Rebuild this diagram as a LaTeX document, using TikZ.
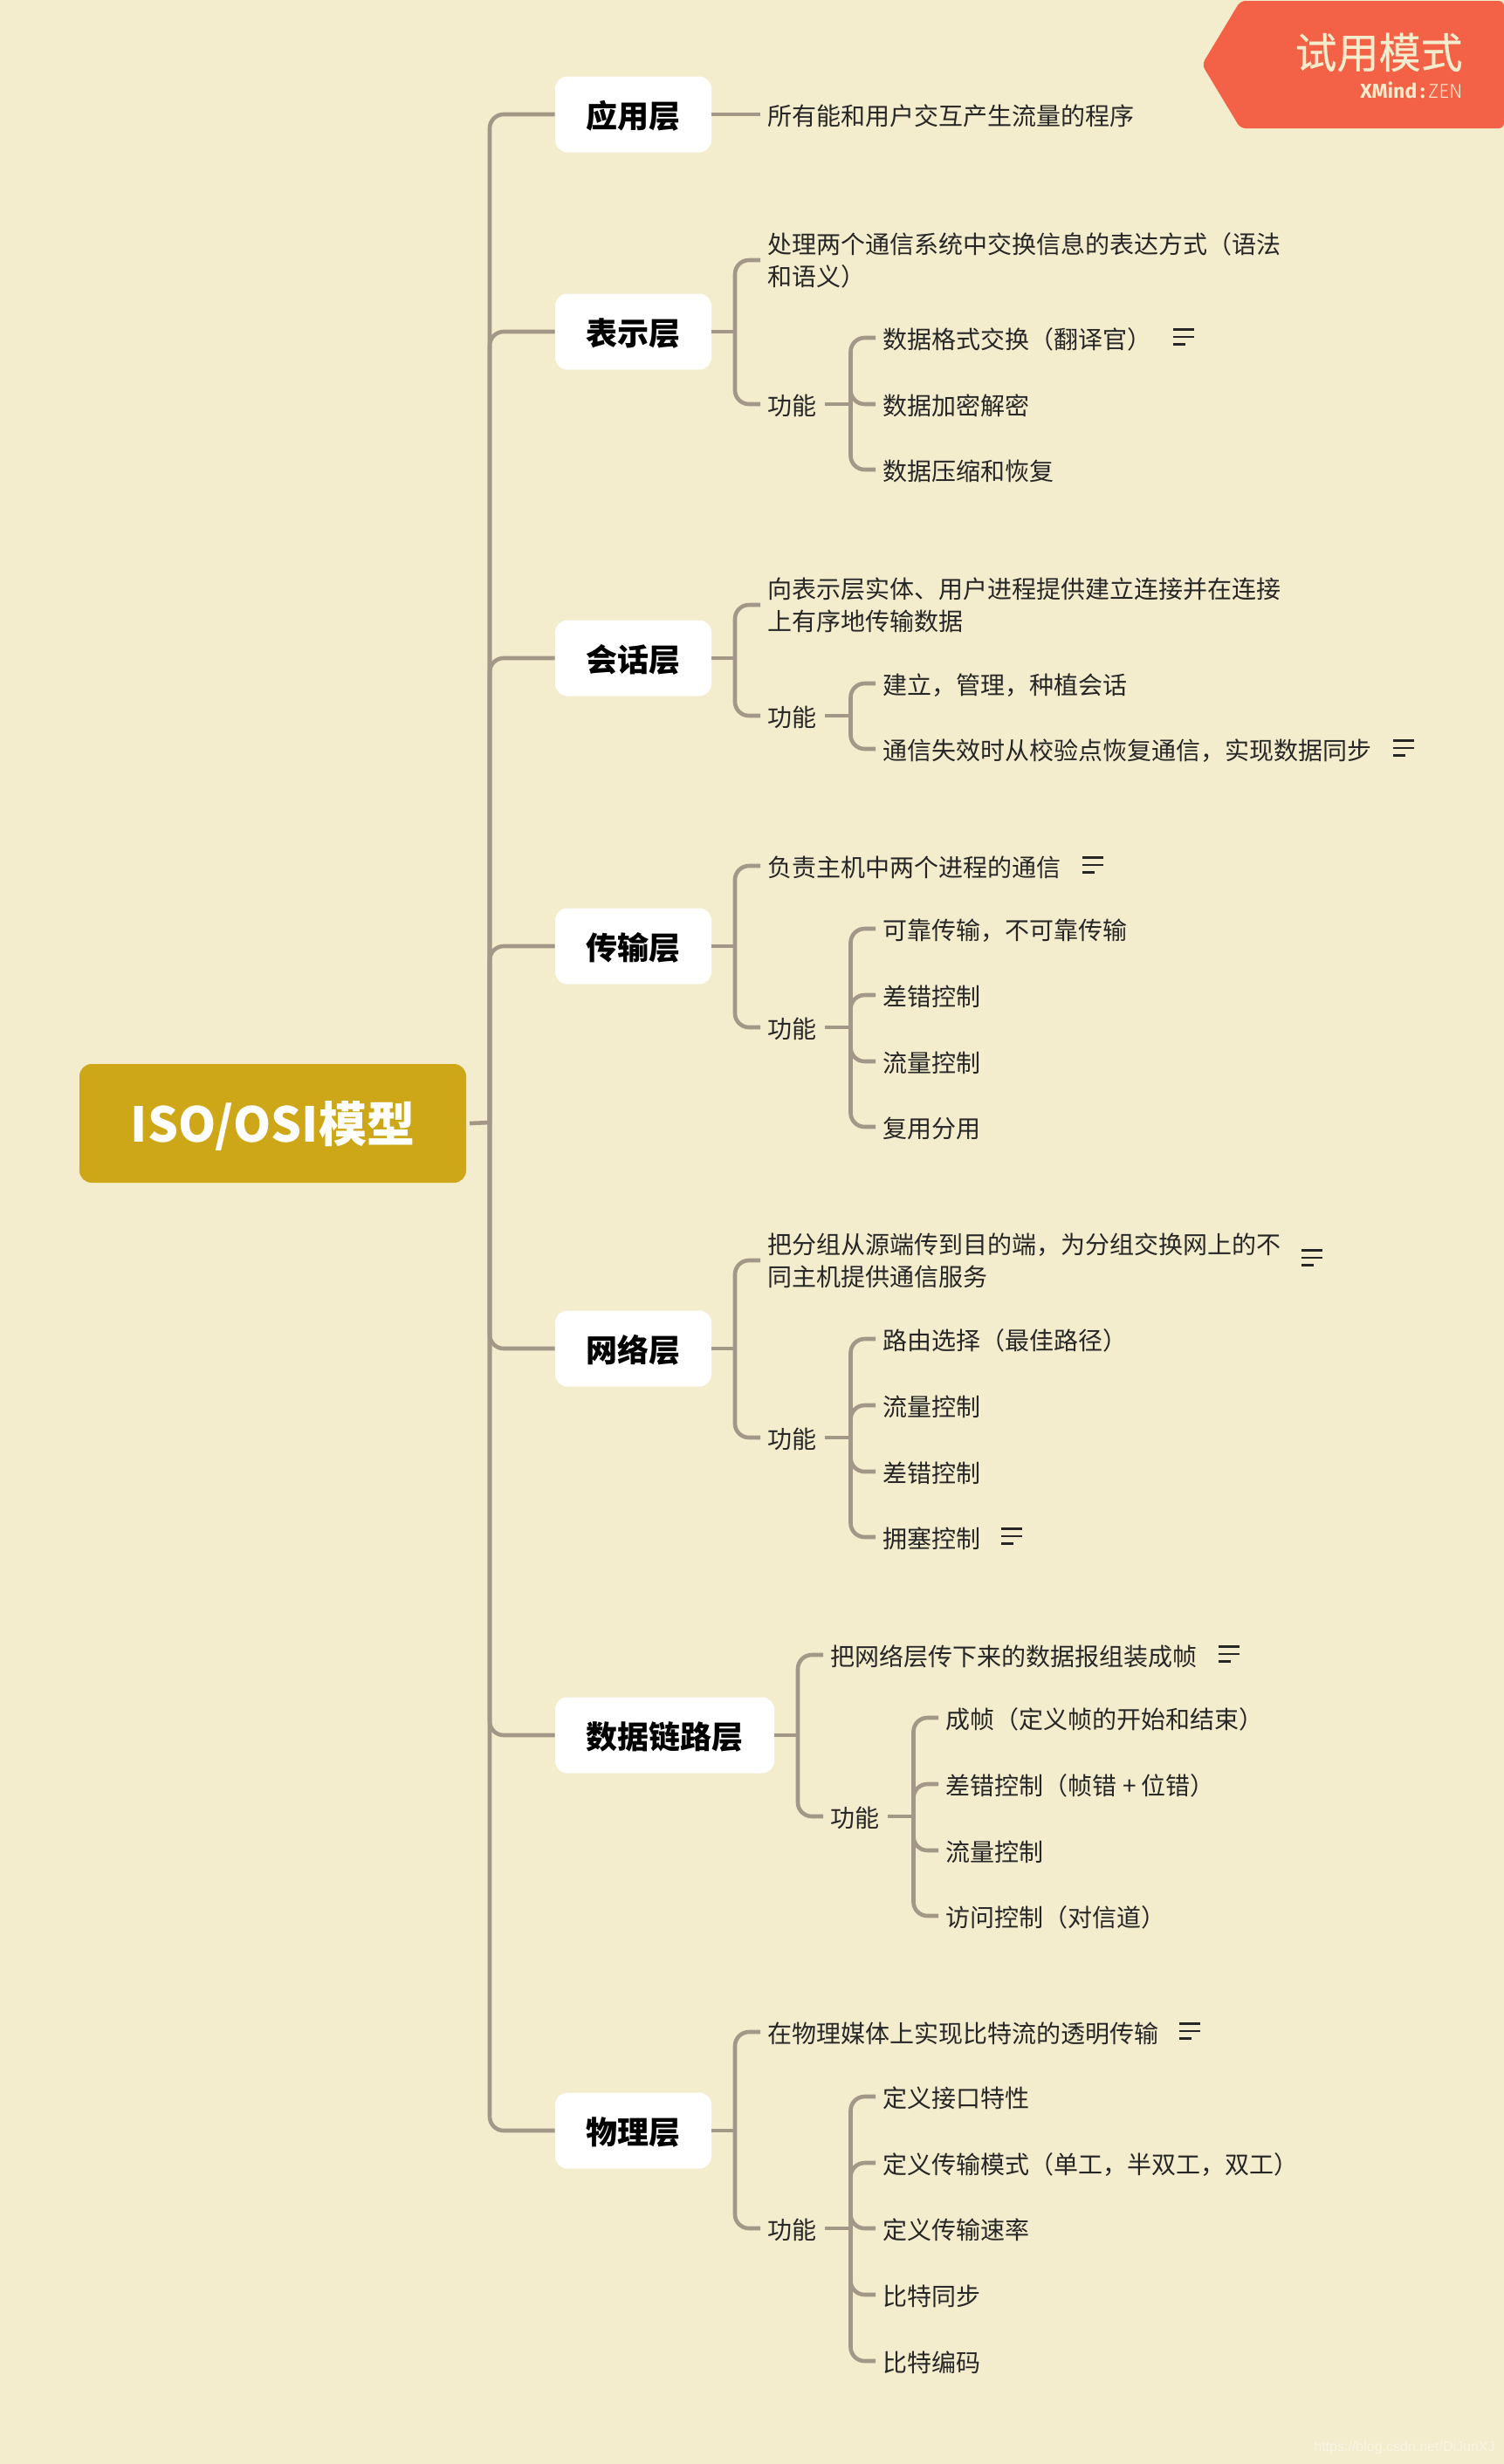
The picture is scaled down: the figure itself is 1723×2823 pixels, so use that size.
\documentclass[tikz,border=0pt]{standalone}
\usepackage{fontspec}
\setmainfont{Noto Sans CJK SC}
\newfontfamily\badgefont[FakeBold=0.4]{Noto Sans CJK SC}
\newfontfamily\latinfont{Fira Sans}
\newfontfamily\latinlight{Fira Sans Light}
\newfontfamily\urlfont{Liberation Sans}
\usetikzlibrary{positioning}

\definecolor{paper}{HTML}{F3ECCD}
\definecolor{linkgray}{HTML}{A39788}
\definecolor{rootgold}{HTML}{CEA718}
\definecolor{badgered}{HTML}{F36247}

\tikzset{
  root/.style={fill=rootgold,text=white,font=\fontsize{27.5}{34}\bfseries\selectfont,rounded corners=7pt,
    minimum width=221.5pt,minimum height=68pt,inner sep=0pt,outer sep=2pt,
    execute at begin node={\rule[-8pt]{0pt}{37.2pt}}},
  layer/.style={fill=white,text=black,font=\fontsize{18}{22}\bfseries\selectfont,rounded corners=7pt,
    minimum width=89.5pt,minimum height=43.5pt,inner sep=0pt,
    execute at begin node={\rule[-6pt]{0pt}{27pt}}},
  itembase/.style={anchor=west,text=black!85,font=\fontsize{14}{18.5}\selectfont,align=left,
    inner xsep=4.2pt,inner ysep=0pt},
  item/.style={itembase,execute at begin node={\rule[-5pt]{0pt}{22.2pt}}},
  twoline/.style={itembase,execute at begin node={\rule{0pt}{18.3pt}}},
  link/.style={draw=linkgray,line width=2.3pt,rounded corners=8pt},
  notemark/.pic={
    \draw[black!85,line width=1.1pt] (-12,-8.5) -- (12,-8.5) (-12,0) -- (12,0) (-12,8.5) -- (2,8.5);
  }
}

\begin{document}
\begin{tikzpicture}[x=0.5pt,y=-0.5pt]
\fill[paper] (0,0) rectangle (1723,2823);
\useasboundingbox (0,0) rectangle (1723,2823);

% Trial badge
\fill[badgered,rounded corners=3pt] (1421,1) -- (1723,1) -- (1723,147) -- (1421,147) -- (1377,74) -- cycle;
\node[text=paper,font=\badgefont\fontsize{24}{28}\selectfont,anchor=east,inner sep=0pt] (badge) at (1676,60) {试用模式};
\node[text=paper,font=\fontsize{11.5}{13}\selectfont,anchor=east,inner sep=0pt] (brand) at (1676,103)
  {{\latinfont\bfseries XMind}\,{\latinfont\bfseries:}\,{\latinlight ZEN}};

% Root and trunk
\node[root] (iso) at (312.5,1287) {ISO/OSI模型};
\coordinate (trunk) at (561,1286);

% Layers
\foreach \name/\txt/\y in {app/应用层/131, pres/表示层/380, sess/会话层/754, trans/传输层/1084, net/网络层/1545, phys/物理层/2441} {
  \node[layer] (\name) at (725.5,\y) {\txt};
}
\node[layer,minimum width=125.5pt] (link) at (761.5,1988) {数据链路层};

\draw[link] (iso.east) -- (trunk);
\foreach \name in {app,pres,sess,trans,net,link,phys} {
  \draw[link] (trunk) |- (\name.west);
}

% Application layer
\node[item] (appa) at (871,131) {所有能和用户交互产生流量的程序};
\draw[link] (app) -- (appa);

% Presentation layer
\node[twoline] (presa) at (871,298) {处理两个通信系统中交换信息的表达方式（语法\\和语义）};
\node[item] (presf) at (871,463) {功能};
\node[item] (presb) at (1003,387) {数据格式交换（翻译官）};
\node[item] (presc) at (1003,463) {数据加密解密};
\node[item] (presd) at (1003,538) {数据压缩和恢复};
\pic at (1356,386) {notemark};
\coordinate (presj) at (842,380);
\coordinate (presk) at (974.5,463);
\draw[link] (pres.east) -- (presj);
\draw[link] (presf.east) -- (presk);
\foreach \kid in {presa,presf} \draw[link] (presj) |- (\kid.west);
\foreach \kid in {presb,presc,presd} \draw[link] (presk) |- (\kid.west);

% Session layer
\node[twoline] (sessa) at (871,693) {向表示层实体、用户进程提供建立连接并在连接\\上有序地传输数据};
\node[item] (sessf) at (871,820) {功能};
\node[item] (sessb) at (1003,783) {建立，管理，种植会话};
\node[item] (sessc) at (1003,858) {通信失效时从校验点恢复通信，实现数据同步};
\pic at (1608,857) {notemark};
\coordinate (sessj) at (842,754);
\coordinate (sessk) at (974.5,820);
\draw[link] (sess.east) -- (sessj);
\draw[link] (sessf.east) -- (sessk);
\foreach \kid in {sessa,sessf} \draw[link] (sessj) |- (\kid.west);
\foreach \kid in {sessb,sessc} \draw[link] (sessk) |- (\kid.west);

% Transport layer
\node[item] (transa) at (871,992) {负责主机中两个进程的通信};
\node[item] (transf) at (871,1177) {功能};
\node[item] (transb) at (1003,1064) {可靠传输，不可靠传输};
\node[item] (transc) at (1003,1140) {差错控制};
\node[item] (transd) at (1003,1216) {流量控制};
\node[item] (transe) at (1003,1291) {复用分用};
\pic at (1252,991) {notemark};
\coordinate (transj) at (842,1084);
\coordinate (transk) at (974.5,1177);
\draw[link] (trans.east) -- (transj);
\draw[link] (transf.east) -- (transk);
\foreach \kid in {transa,transf} \draw[link] (transj) |- (\kid.west);
\foreach \kid in {transb,transc,transd,transe} \draw[link] (transk) |- (\kid.west);

% Network layer
\node[twoline] (neta) at (871,1444) {把分组从源端传到目的端，为分组交换网上的不\\同主机提供通信服务};
\node[item] (netf) at (871,1647) {功能};
\node[item] (netb) at (1003,1534) {路由选择（最佳路径）};
\node[item] (netc) at (1003,1610) {流量控制};
\node[item] (netd) at (1003,1686) {差错控制};
\node[item] (nete) at (1003,1761) {拥塞控制};
\pic at (1503,1441) {notemark};
\pic at (1159,1760) {notemark};
\coordinate (netj) at (842,1545);
\coordinate (netk) at (974.5,1647);
\draw[link] (net.east) -- (netj);
\draw[link] (netf.east) -- (netk);
\foreach \kid in {neta,netf} \draw[link] (netj) |- (\kid.west);
\foreach \kid in {netb,netc,netd,nete} \draw[link] (netk) |- (\kid.west);

% Data link layer
\node[item] (linka) at (943,1896) {把网络层传下来的数据报组装成帧};
\node[item] (linkf) at (943,2081) {功能};
\node[item] (linkb) at (1075,1968) {成帧（定义帧的开始和结束）};
\node[item] (linkc) at (1075,2044) {差错控制（帧错 + 位错）};
\node[item] (linkd) at (1075,2120) {流量控制};
\node[item] (linke) at (1075,2195) {访问控制（对信道）};
\pic at (1408,1895) {notemark};
\coordinate (linkj) at (914,1988);
\coordinate (linkk) at (1046.5,2081);
\draw[link] (link.east) -- (linkj);
\draw[link] (linkf.east) -- (linkk);
\foreach \kid in {linka,linkf} \draw[link] (linkj) |- (\kid.west);
\foreach \kid in {linkb,linkc,linkd,linke} \draw[link] (linkk) |- (\kid.west);

% Physical layer
\node[item] (physa) at (871,2328) {在物理媒体上实现比特流的透明传输};
\node[item] (physf) at (871,2553) {功能};
\node[item] (physb) at (1003,2402) {定义接口特性};
\node[item] (physc) at (1003,2478) {定义传输模式（单工，半双工，双工）};
\node[item] (physd) at (1003,2553) {定义传输速率};
\node[item] (physe) at (1003,2629) {比特同步};
\node[item] (physg) at (1003,2705) {比特编码};
\pic at (1363,2327) {notemark};
\coordinate (physj) at (842,2441);
\coordinate (physk) at (974.5,2553);
\draw[link] (phys.east) -- (physj);
\draw[link] (physf.east) -- (physk);
\foreach \kid in {physa,physf} \draw[link] (physj) |- (\kid.west);
\foreach \kid in {physb,physc,physd,physe,physg} \draw[link] (physk) |- (\kid.west);

% Watermark
\node[text=white!50!paper,font=\urlfont\fontsize{8}{10}\selectfont,anchor=east,inner sep=0pt] (wmark) at (1713,2804) {https://blog.csdn.net/DiJunXJ};

\end{tikzpicture}
\end{document}
